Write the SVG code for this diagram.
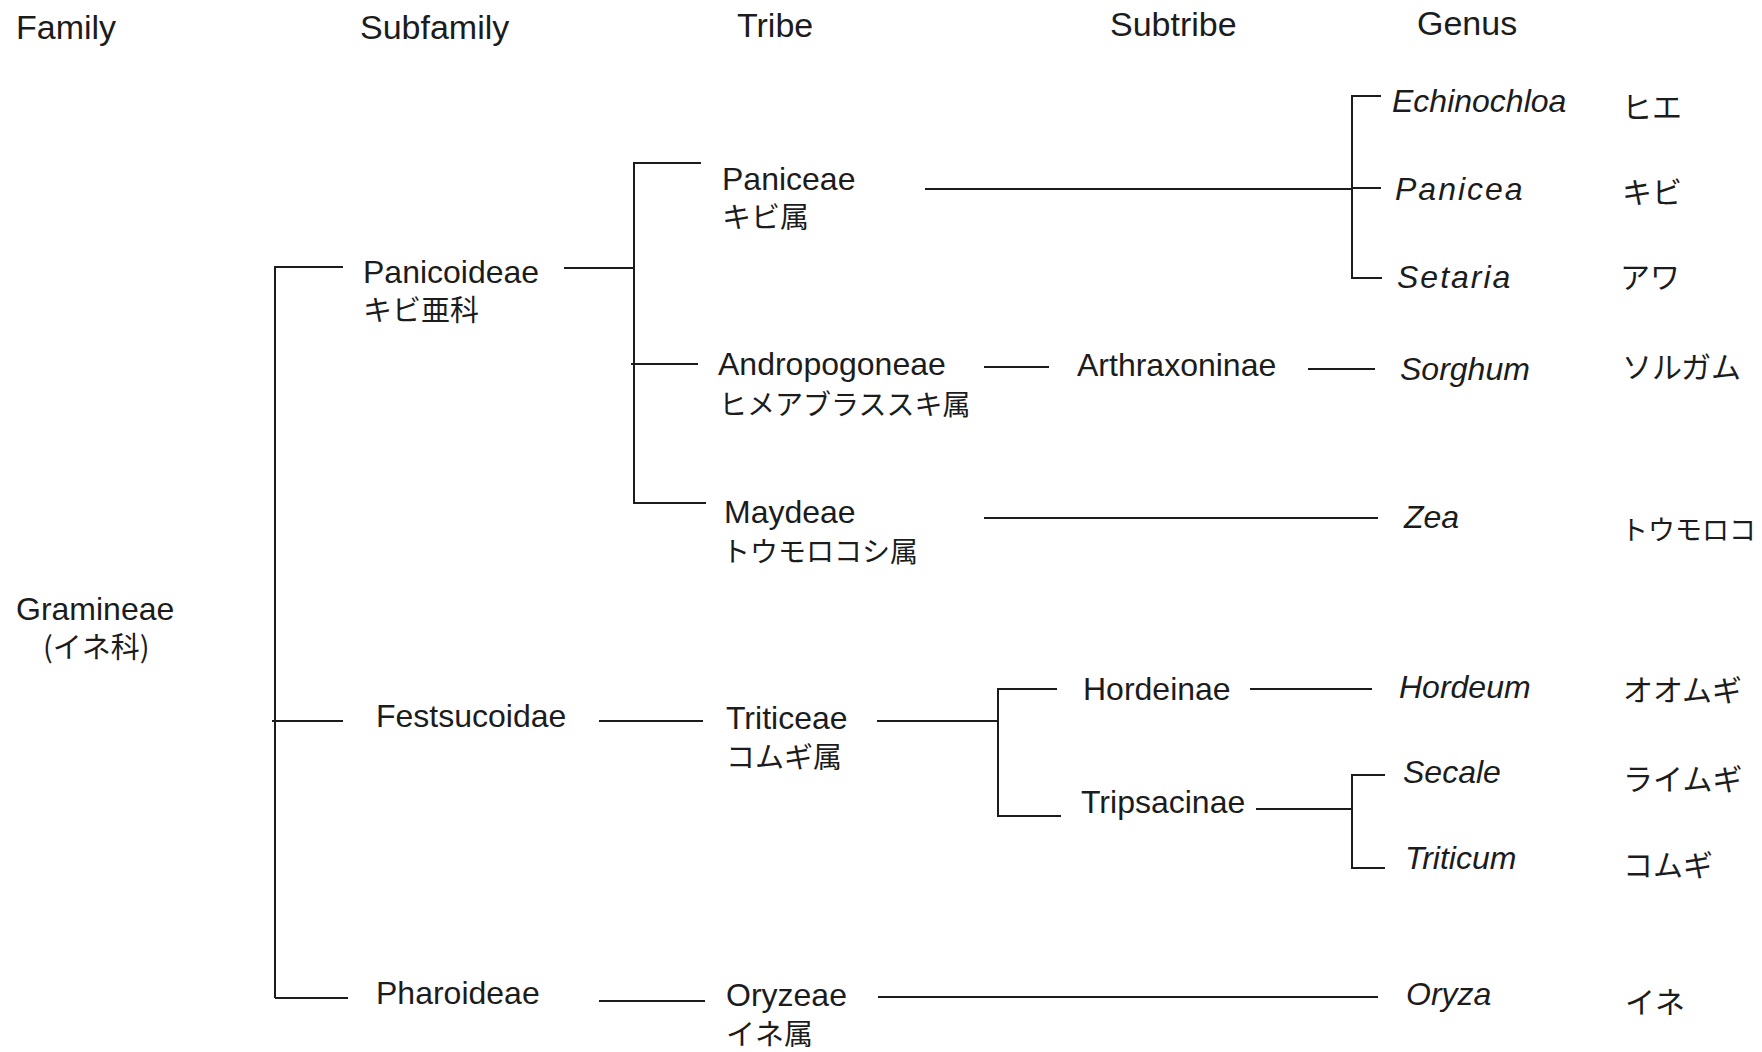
<svg xmlns="http://www.w3.org/2000/svg" width="1762" height="1052" viewBox="0 0 1762 1052">
<style>
text{font-family:"Liberation Sans",Arial,sans-serif;fill:#1c1c1c}
.h{font-size:34px}
.n{font-size:32px}
.g{font-size:32px;font-style:italic}
.sp{letter-spacing:2px}
.j{font-family:"Noto Sans CJK JP","Liberation Sans",sans-serif;font-size:29px}
.j28{font-family:"Noto Sans CJK JP","Liberation Sans",sans-serif;font-size:28px}
.jr{font-family:"Noto Sans CJK JP","Liberation Sans",sans-serif;font-size:30px}
.c line{stroke:#1c1c1c;stroke-width:2;fill:none}
</style>
<rect width="1762" height="1052" fill="#fff"/>
<g id="headers">
<text class="h" x="16" y="39">Family</text>
<text class="h" x="360" y="39">Subfamily</text>
<text class="h" x="737" y="37">Tribe</text>
<text class="h" x="1110" y="36">Subtribe</text>
<text class="h" x="1417" y="35">Genus</text>
</g>
<g id="connectors" class="c">
<line x1="275" y1="267" x2="275" y2="998"/>
<line x1="274" y1="267" x2="343" y2="267"/>
<line x1="272" y1="721" x2="343" y2="721"/>
<line x1="275" y1="998" x2="348" y2="998"/>
<line x1="564" y1="268" x2="634" y2="268"/>
<line x1="634" y1="163" x2="634" y2="503"/>
<line x1="633" y1="163" x2="701" y2="163"/>
<line x1="631" y1="364" x2="698" y2="364"/>
<line x1="633" y1="503" x2="706" y2="503"/>
<line x1="599" y1="721" x2="703" y2="721"/>
<line x1="599" y1="1001" x2="705" y2="1001"/>
<line x1="925" y1="189" x2="1352" y2="189"/>
<line x1="1352" y1="96" x2="1352" y2="279"/>
<line x1="1351" y1="96" x2="1381" y2="96"/>
<line x1="1352" y1="188" x2="1381" y2="188"/>
<line x1="1351" y1="278" x2="1382" y2="278"/>
<line x1="984" y1="367" x2="1049" y2="367"/>
<line x1="1308" y1="369" x2="1375" y2="369"/>
<line x1="984" y1="518" x2="1378" y2="518"/>
<line x1="877" y1="721" x2="998" y2="721"/>
<line x1="998" y1="689" x2="998" y2="816"/>
<line x1="997" y1="689" x2="1057" y2="689"/>
<line x1="997" y1="816" x2="1061" y2="816"/>
<line x1="1250" y1="689" x2="1372" y2="689"/>
<line x1="1256" y1="809" x2="1352" y2="809"/>
<line x1="1352" y1="775" x2="1352" y2="868"/>
<line x1="1351" y1="775" x2="1385" y2="775"/>
<line x1="1351" y1="868" x2="1385" y2="868"/>
<line x1="878" y1="997" x2="1378" y2="997"/>
</g>
<g id="gramineae">
<text class="n" x="16" y="620">Gramineae</text>
<text class="j" x="43" y="658">(イネ科)</text>
</g>
<g id="panicoideae">
<text class="n" x="363" y="283">Panicoideae</text>
<text class="j" x="363" y="321">キビ亜科</text>
</g>
<g id="festsucoidae">
<text class="n" x="376" y="727">Festsucoidae</text>
</g>
<g id="pharoideae">
<text class="n" x="376" y="1004">Pharoideae</text>
</g>
<g id="paniceae">
<text class="n" x="722" y="190">Paniceae</text>
<text class="j" x="722" y="228">キビ属</text>
</g>
<g id="andropogoneae">
<text class="n" x="718" y="375">Andropogoneae</text>
<text class="j28" x="719" y="415">ヒメアブラススキ属</text>
</g>
<g id="maydeae">
<text class="n" x="724" y="523">Maydeae</text>
<text class="j28" x="722" y="562">トウモロコシ属</text>
</g>
<g id="triticeae">
<text class="n" x="726" y="729">Triticeae</text>
<text class="j" x="726" y="768">コムギ属</text>
</g>
<g id="oryzeae">
<text class="n" x="726" y="1006">Oryzeae</text>
<text class="j" x="726" y="1045">イネ属</text>
</g>
<g id="arthraxoninae">
<text class="n" x="1077" y="376">Arthraxoninae</text>
</g>
<g id="hordeinae">
<text class="n" x="1083" y="700">Hordeinae</text>
</g>
<g id="tripsacinae">
<text class="n" x="1081" y="813">Tripsacinae</text>
</g>
<g id="echinochloa">
<text class="g" x="1392" y="112">Echinochloa</text>
<text class="jr" x="1622" y="118">ヒエ</text>
</g>
<g id="panicea">
<text class="g sp" x="1395" y="200">Panicea</text>
<text class="jr" x="1622" y="203">キビ</text>
</g>
<g id="setaria">
<text class="g sp" x="1397" y="288">Setaria</text>
<text class="jr" x="1620" y="288">アワ</text>
</g>
<g id="sorghum">
<text class="g" x="1400" y="380">Sorghum</text>
<text class="jr" x="1622" y="378">ソルガム</text>
</g>
<g id="zea">
<text class="g" x="1404" y="528">Zea</text>
<text class="jr" x="1621" y="540" style="font-size:27px">トウモロコ</text>
</g>
<g id="hordeum">
<text class="g" x="1399" y="698">Hordeum</text>
<text class="jr" x="1623" y="701">オオムギ</text>
</g>
<g id="secale">
<text class="g" x="1403" y="783">Secale</text>
<text class="jr" x="1623" y="790">ライムギ</text>
</g>
<g id="triticum">
<text class="g" x="1405" y="869">Triticum</text>
<text class="jr" x="1623" y="876">コムギ</text>
</g>
<g id="oryza">
<text class="g" x="1406" y="1005">Oryza</text>
<text class="jr" x="1625" y="1013">イネ</text>
</g>
</svg>
